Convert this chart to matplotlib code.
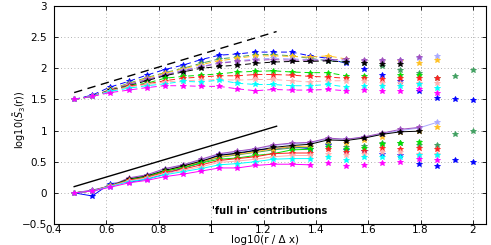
import numpy as np
import matplotlib
matplotlib.use("Agg")
import matplotlib.pyplot as plt

nan = np.nan
# x positions: log10(r/dx)
x_vals = [0.477, 0.546, 0.615, 0.685, 0.754, 0.823, 0.892, 0.962, 1.031, 1.100,
          1.169, 1.238, 1.308, 1.377, 1.446, 1.515, 1.585, 1.654, 1.723, 1.792,
          1.861, 1.930, 2.000]

series_names = ["blue", "seagreen", "gold", "lavender", "purple", "black",
                "green", "red", "pink", "cyan", "magenta"]
series_colors = ["#0000ff", "#3f9f5f", "#ffc020", "#aaaaff", "#a050c0", "#000000",
                 "#00e000", "#ff2020", "#ffb0b0", "#00ffff", "#ff00ff"]

# upper group (dashed)
upper = {
    "blue":     [1.50,1.57,1.70,1.79,1.89,1.98,2.05,2.14,2.21,2.23,2.26,2.26,2.26,2.20,2.16,2.08,1.99,1.89,1.79,1.64,1.53,1.51,1.49],
    "seagreen": [1.50,1.55,1.66,1.76,1.85,1.93,2.00,2.08,2.15,2.18,2.22,2.22,2.20,2.16,2.12,2.10,2.08,2.03,1.97,1.92,1.84,1.88,1.97],
    "gold":     [1.50,1.55,1.66,1.75,1.84,1.92,1.99,2.06,2.12,2.16,2.20,2.20,2.19,2.18,2.20,2.15,2.11,2.11,2.12,2.09,2.14,nan,nan],
    "lavender": [1.50,1.55,1.65,1.74,1.82,1.90,1.97,2.03,2.09,2.12,2.15,2.16,2.15,2.14,2.13,2.12,2.12,2.12,2.14,2.16,2.20,nan,nan],
    "purple":   [1.50,1.55,1.65,1.74,1.82,1.89,1.96,2.02,2.08,2.11,2.13,2.14,2.13,2.13,2.13,2.15,2.14,2.13,2.14,2.18,nan,nan,nan],
    "black":    [1.50,1.55,1.65,1.72,1.80,1.88,1.94,2.00,2.03,2.05,2.08,2.10,2.11,2.11,2.12,2.10,2.08,2.07,2.07,nan,nan,nan,nan],
    "green":    [1.50,1.55,1.64,1.72,1.76,1.84,1.87,1.89,1.91,1.94,1.95,1.96,1.94,1.93,1.93,1.88,1.88,nan,1.89,1.90,nan,nan,nan],
    "red":      [1.50,1.55,1.64,1.71,1.75,1.80,1.84,1.86,1.88,1.88,1.90,1.90,1.89,1.87,1.86,1.84,1.84,1.82,1.85,1.85,1.84,nan,nan],
    "pink":     [1.50,1.55,1.64,1.70,1.74,1.78,1.80,1.81,1.82,1.81,1.82,1.82,1.80,1.78,1.80,1.80,1.80,1.76,1.76,1.76,1.77,nan,nan],
    "cyan":     [1.50,1.55,1.63,1.68,1.72,1.75,1.79,1.78,1.81,1.76,1.74,1.74,1.72,1.72,1.74,1.70,1.72,1.72,1.72,1.74,1.69,nan,nan],
    "magenta":  [1.50,1.55,1.61,1.65,1.69,1.72,1.72,1.71,1.71,1.67,1.64,1.66,1.65,1.65,1.66,1.64,1.65,1.64,1.64,1.66,1.61,nan,nan],
}

# lower group (solid)
lower = {
    "blue":     [0.00,-0.05,0.15,0.17,0.22,0.30,0.40,0.48,0.62,0.62,0.69,0.70,0.74,0.71,0.77,0.69,0.68,0.63,0.60,0.47,0.43,0.53,0.49],
    "seagreen": [0.00,0.03,0.12,0.21,0.26,0.35,0.41,0.49,0.57,0.61,0.65,0.69,0.72,0.73,0.78,0.74,0.76,0.80,0.80,0.77,0.77,0.94,1.00],
    "gold":     [0.00,0.03,0.11,0.22,0.27,0.35,0.42,0.50,0.58,0.62,0.66,0.71,0.74,0.75,0.83,0.80,0.85,0.89,0.97,0.99,1.05,nan,nan],
    "lavender": [0.00,0.04,0.11,0.23,0.28,0.38,0.44,0.53,0.62,0.66,0.70,0.76,0.79,0.80,0.87,0.86,0.89,0.95,1.00,1.04,1.13,nan,nan],
    "purple":   [0.00,0.045,0.11,0.24,0.29,0.39,0.45,0.54,0.63,0.67,0.71,0.77,0.80,0.81,0.88,0.86,0.90,0.96,1.02,1.05,nan,nan,nan],
    "black":    [0.00,0.03,0.11,0.22,0.27,0.36,0.43,0.51,0.60,0.64,0.68,0.73,0.76,0.78,0.85,0.84,0.88,0.94,0.98,0.99,nan,nan,nan],
    "green":    [0.00,0.03,0.11,0.21,0.26,0.35,0.40,0.48,0.54,0.56,0.60,0.63,0.69,0.70,0.73,0.70,0.72,0.78,0.80,0.81,nan,nan,nan],
    "red":      [0.00,0.03,0.11,0.20,0.25,0.33,0.38,0.45,0.52,0.55,0.58,0.63,0.64,0.64,0.70,0.66,0.68,0.72,0.70,0.72,0.70,nan,nan],
    "pink":     [0.00,0.03,0.11,0.19,0.24,0.31,0.36,0.42,0.49,0.51,0.54,0.58,0.60,0.60,0.63,0.61,0.62,0.66,0.65,0.63,0.62,nan,nan],
    "cyan":     [0.00,0.03,0.10,0.18,0.22,0.29,0.34,0.39,0.45,0.47,0.50,0.54,0.55,0.55,0.58,0.53,0.57,0.58,0.57,0.60,0.61,nan,nan],
    "magenta":  [0.00,0.03,0.09,0.16,0.20,0.26,0.30,0.35,0.40,0.40,0.44,0.46,0.46,0.45,0.48,0.43,0.45,0.48,0.49,0.54,0.53,nan,nan],
}
# number of points joined by lines
upper_line_n = 16
lower_line_n = {"purple": 20, "lavender": 21, "black": 20}
lower_line_default = 14

# reference slope lines
ref_x = [0.477, 1.25]
ref_upper_y = [1.61, 2.59]
ref_lower_y = [0.10, 1.07]

xticks = [0.4, 0.6, 0.8, 1.0, 1.2, 1.4, 1.6, 1.8, 2.0]
xticklabels = ["0.4", "0.6", "0.8", "1", "1.2", "1.4", "1.6", "1.8", "2"]
yticks = [-0.5, 0, 0.5, 1, 1.5, 2, 2.5, 3]
yticklabels = ["\u22120.5", "0", "0.5", "1", "1.5", "2", "2.5", "3"]

fig = plt.figure(figsize=(4.91, 2.45), dpi=100)
ax = fig.add_axes([0.110, 0.0857, 0.880, 0.8898])

x = np.array(x_vals)
ms = 4.0
for name, col in zip(series_names, series_colors):
    yu = np.array(upper[name])
    ax.plot(x[:upper_line_n], yu[:upper_line_n], linestyle=(0, (6, 4)), color=col, lw=0.7)
    ax.plot(x, yu, linestyle="none", marker="*", color=col, ms=ms, mew=0.6)
    yl = np.array(lower[name])
    n = lower_line_n.get(name, lower_line_default)
    ax.plot(x[:n], yl[:n], linestyle="-", color=col, lw=0.7)
    ax.plot(x, yl, linestyle="none", marker="*", color=col, ms=ms, mew=0.6)

ax.plot(ref_x, ref_upper_y, color="black", lw=1.0, linestyle=(0, (6, 4)))
ax.plot(ref_x, ref_lower_y, color="black", lw=1.0)

ax.text(1.003, -0.29, "'full in' contributions", fontsize=7, fontweight="bold",
        ha="left", va="center")

ax.set_xlim(0.4, 2.05)
ax.set_ylim(-0.5, 3)
ax.set_xticks(xticks)
ax.set_xticklabels(xticklabels, fontsize=7.5)
ax.set_yticks(yticks)
ax.set_yticklabels(yticklabels, fontsize=7.5)
ax.tick_params(axis="x", direction="in", top=True, length=3, width=0.6, pad=1)
ax.tick_params(axis="y", direction="in", right=True, length=3, width=0.6, pad=5)
ax.grid(True, linestyle=(0, (1, 3)), color="#999999", lw=0.6)
for s in ax.spines.values():
    s.set_linewidth(0.8)
fig.text(265 / 491, 0 / 245, "log10(r / \u0394 x)", fontsize=7.5, ha="center", va="bottom")
ax.set_ylabel(r"log10($\tilde{S}_3$(r))", fontsize=7)
ax.yaxis.set_label_coords(-0.06, 0.48)

fig.savefig("out.png", dpi=100)
